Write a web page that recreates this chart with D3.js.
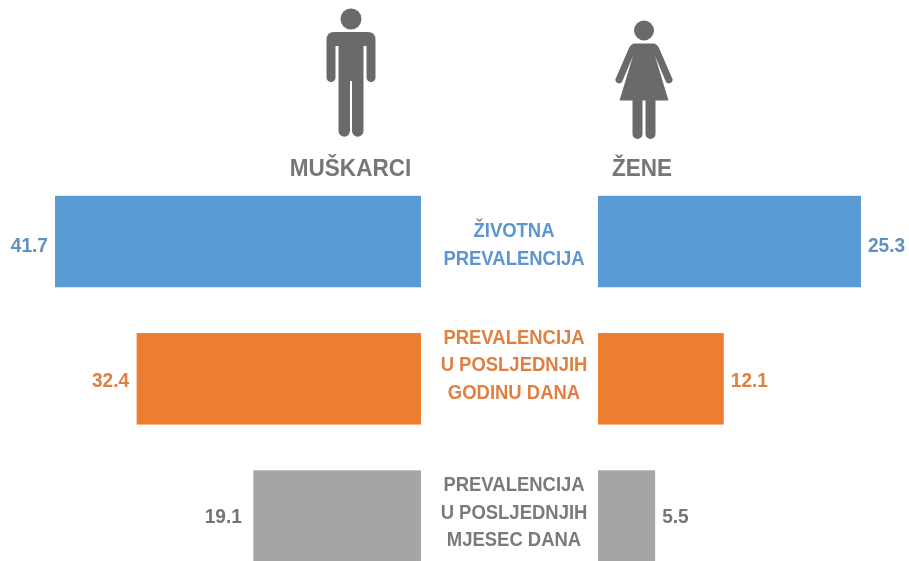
<!DOCTYPE html>
<html><head><meta charset="utf-8">
<script src="https://cdn.jsdelivr.net/npm/d3@7"></script>
<style>html,body{margin:0;padding:0;background:#fff;overflow:hidden}svg{display:block}text{font-family:"Liberation Sans",Arial,sans-serif;font-weight:700}</style>
</head><body><svg id="c" width="909" height="561"></svg>
<script>
const categories=["Životna prevalencija","Prevalencija u posljednjih godinu dana","Prevalencija u posljednjih mjesec dana"];
const categoryLines=[["ŽIVOTNA","PREVALENCIJA"],["PREVALENCIJA","U POSLJEDNJIH","GODINU DANA"],["PREVALENCIJA","U POSLJEDNJIH","MJESEC DANA"]];
const muskarci=[41.7,32.4,19.1];
const zene=[25.3,12.1,5.5];
const colors=["#5b9bd5","#ed7d31","#a5a5a5"];
const textColors=["#5b95d0","#e08040","#7a7a7a"];
const valueColors=["#5e8fc4","#e08040","#757575"];
const labelFirstBaseline=[237,343.5,491];
const valueBaseline=[251.5,386.5,523];
const menValueGap=[7,7.5,11.5];
const svg=d3.select("#c");
svg.append("defs").append("filter").attr("id","soft").append("feGaussianBlur").attr("stdDeviation",0.55);
const y=d3.scaleBand().domain(categories).range([195.8,561.8]).paddingInner(0.3336).paddingOuter(0);
const xM=d3.scaleLinear().domain([0,41.7]).range([421,55]);
const xZ=d3.scaleLinear().domain([0,25.3]).range([598,861]);
function label(parent,x,yy,str,size,sx,anchor,fill){
  return parent.append("text").attr("transform",`translate(${x},${yy}) scale(${sx},1)`).attr("text-anchor",anchor).attr("font-size",size).attr("fill",fill).text(str);
}
const g=svg.append("g");
categories.forEach((c,i)=>{
  g.append("rect").attr("x",xM(muskarci[i])).attr("y",y(c)).attr("width",xM(0)-xM(muskarci[i])).attr("height",y.bandwidth()).attr("fill",colors[i]);
  g.append("rect").attr("x",xZ(0)).attr("y",y(c)).attr("width",xZ(zene[i])-xZ(0)).attr("height",y.bandwidth()).attr("fill",colors[i]);
  const t=g.append("g").attr("filter","url(#soft)");
  label(t,xM(muskarci[i])-menValueGap[i],valueBaseline[i],muskarci[i].toFixed(1),21,0.91,"end",valueColors[i]);
  label(t,xZ(zene[i])+7,valueBaseline[i],zene[i].toFixed(1),21,0.91,"start",valueColors[i]);
  categoryLines[i].forEach((l,j)=>label(t,514,labelFirstBaseline[i]+j*27.7,l,21,0.88,"middle",textColors[i]));
});
const ic=svg.append("g").attr("filter","url(#soft)").attr("fill","#6b6b6b");
ic.append("circle").attr("cx",351).attr("cy",19).attr("r",10.5);
ic.append("path").attr("d","M334 32H368Q375.5 32 375.5 40V77.5A4.5 4.5 0 0 1 366.5 77.5V46H363.5V131A5.75 5.75 0 0 1 352 131V81H350V131A5.75 5.75 0 0 1 338.5 131V46H335.5V77.5A4.5 4.5 0 0 1 326.5 77.5V40Q326.5 32 334 32Z");
ic.append("circle").attr("cx",644).attr("cy",30.5).attr("r",10);
ic.append("path").attr("d","M635 43.5H653Q657 43.5 659 48L672.5 79A3.7 3.7 0 0 1 666 82L655 56L668.500 100.500H655.500V134A5 5 0 0 1 645.500 134V100.500H642.500V134A5 5 0 0 1 632.500 134V100.500H619.500L633 56L622 82A3.700 3.700 0 0 1 615.500 79L629 48Q631 43.500 635 43.500Z");
const h=svg.append("g").attr("filter","url(#soft)");
label(h,350.5,175.5,"MUŠKARCI",24.5,0.92,"middle","#767676");
label(h,642,175.5,"ŽENE",24.5,0.92,"middle","#767676");
</script></body></html>
